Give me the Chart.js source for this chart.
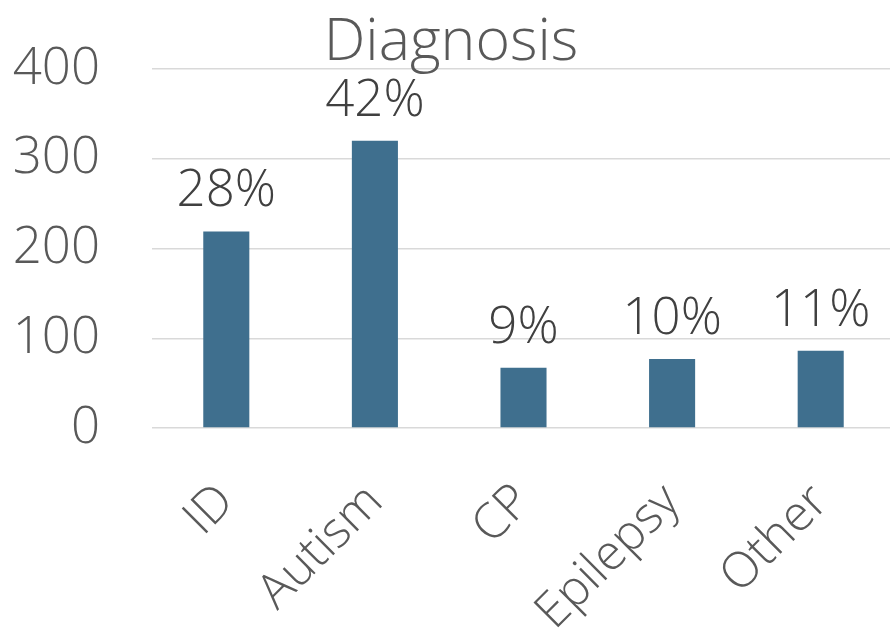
<!DOCTYPE html>
<html>
<head>
<meta charset="utf-8">
<script src="https://cdn.jsdelivr.net/npm/chart.js@4/dist/chart.umd.min.js"></script>
<style>
  html, body { margin: 0; padding: 0; background: #ffffff; overflow: hidden; }
  #wrap { width: 895px; height: 637px; }
</style>
</head>
<body>
<div id="wrap"><canvas id="chart" width="895" height="637"></canvas></div>
<script>
// Diagnosis counts
const categories = ['ID', 'Autism', 'CP', 'Epilepsy', 'Other'];
const counts = [219, 320, 67, 77, 86];
const yTicks = [0, 100, 200, 300, 400];
const chartTitle = 'Diagnosis';

const FONT = "'Open Sans', 'Segoe UI', sans-serif";
const total = counts.reduce((a, b) => a + b, 0);
const shares = counts.map(v => Math.round(v / total * 100) + '%');

// Title and percent shares drawn on top of the plot
const annotations = {
  id: 'annotations',
  afterDatasetsDraw(chart) {
    const ctx = chart.ctx;
    const meta = chart.getDatasetMeta(0);
    ctx.save();
    ctx.textAlign = 'center';
    ctx.textBaseline = 'alphabetic';

    ctx.font = `300 59px ${FONT}`;
    ctx.fillStyle = '#595959';
    ctx.fillText(chartTitle, 451, 60);

    ctx.font = `300 51px ${FONT}`;
    ctx.fillStyle = '#404040';
    meta.data.forEach((bar, i) => {
      ctx.fillText(shares[i], bar.x, bar.y - 25);
    });
    ctx.restore();
  }
};

new Chart(document.getElementById('chart'), {
  type: 'bar',
  data: {
    labels: categories,
    datasets: [{
      data: counts,
      backgroundColor: '#3f6f8e',
      borderWidth: 0,
      barPercentage: 0.31,
      categoryPercentage: 1
    }]
  },
  options: {
    responsive: false,
    animation: false,
    layout: { padding: { top: 69, right: 0, bottom: 0, left: 0 } },
    plugins: {
      legend: { display: false },
      tooltip: { enabled: false },
      title: { display: false }
    },
    scales: {
      x: {
        grid: { display: false, drawTicks: false },
        border: { display: false },
        ticks: {
          color: '#595959',
          font: { family: FONT, size: 49, weight: '300' },
          minRotation: 45,
          maxRotation: 45,
          padding: 45,
          autoSkip: false
        },
        afterFit(scale) {
          scale.height = 209;
          scale.paddingLeft = 0;
          scale.paddingRight = 0;
        }
      },
      y: {
        min: 0,
        max: 400,
        afterBuildTicks(scale) { scale.ticks = yTicks.map(v => ({ value: v })); },
        grid: { color: '#d9d9d9', lineWidth: 1.5, drawTicks: false },
        border: { display: false },
        ticks: {
          color: '#595959',
          font: { family: FONT, size: 51, weight: '300' },
          padding: 52
        },
        afterFit(scale) {
          scale.width = 152;
          scale.paddingTop = 0;
          scale.paddingBottom = 0;
        }
      }
    }
  },
  plugins: [annotations]
});
</script>
</body>
</html>
